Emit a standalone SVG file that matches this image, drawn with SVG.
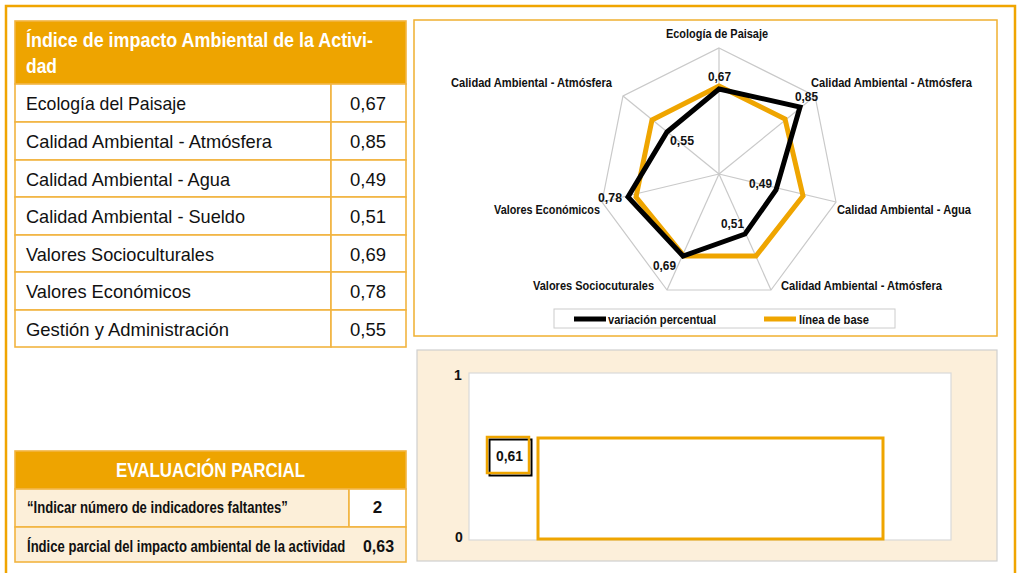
<svg xmlns="http://www.w3.org/2000/svg" width="1018" height="573" viewBox="0 0 1018 573">
<style>
.t{font-family:"Liberation Sans Narrow","Liberation Sans",Arial,sans-serif}
.reg{font-size:18.5px;fill:#111}
.hb{font-size:19.5px;font-weight:bold;fill:#fff}
.lab{font-size:12.5px;font-weight:bold;fill:#111}
.eb{font-size:17px;font-weight:bold;fill:#111}
.cell{fill:#fff;stroke:#F2B440;stroke-width:1.6}
.cream{fill:#FCEFD9;stroke:#F2B440;stroke-width:1.6}
.grid{fill:none;stroke:#c9c9c9;stroke-width:1.2}
</style>
<rect width="1018" height="573" fill="#fff"/>
<g id="outer-frame">
<path d="M6,573 V6 H1015 V573" fill="none" stroke="#F0A500" stroke-width="2.5"/>
</g>
<g id="table-indice">
<rect x="15" y="21" width="391" height="63" fill="#EEA400" stroke="#F2B440" stroke-width="1.6"/>
<text class="t hb" x="26" y="47" textLength="347" lengthAdjust="spacingAndGlyphs">Índice de impacto Ambiental de la Activi-</text>
<text class="t hb" x="26" y="73" textLength="31" lengthAdjust="spacingAndGlyphs">dad</text>
<rect class="cell" x="15" y="84" width="316" height="38"/><rect class="cell" x="331" y="84" width="75" height="38"/>
<rect class="cell" x="15" y="122" width="316" height="38"/><rect class="cell" x="331" y="122" width="75" height="38"/>
<rect class="cell" x="15" y="160" width="316" height="37"/><rect class="cell" x="331" y="160" width="75" height="37"/>
<rect class="cell" x="15" y="197" width="316" height="38"/><rect class="cell" x="331" y="197" width="75" height="38"/>
<rect class="cell" x="15" y="235" width="316" height="37"/><rect class="cell" x="331" y="235" width="75" height="37"/>
<rect class="cell" x="15" y="272" width="316" height="38"/><rect class="cell" x="331" y="272" width="75" height="38"/>
<rect class="cell" x="15" y="310" width="316" height="37"/><rect class="cell" x="331" y="310" width="75" height="37"/>
<text class="t reg" x="26" y="110" textLength="160" lengthAdjust="spacingAndGlyphs">Ecología del Paisaje</text>
<text class="t reg" x="26" y="148" textLength="246" lengthAdjust="spacingAndGlyphs">Calidad Ambiental - Atmósfera</text>
<text class="t reg" x="26" y="186" textLength="204" lengthAdjust="spacingAndGlyphs">Calidad Ambiental - Agua</text>
<text class="t reg" x="26" y="223" textLength="219" lengthAdjust="spacingAndGlyphs">Calidad Ambiental - Sueldo</text>
<text class="t reg" x="26" y="261" textLength="188" lengthAdjust="spacingAndGlyphs">Valores Socioculturales</text>
<text class="t reg" x="26" y="298" textLength="165" lengthAdjust="spacingAndGlyphs">Valores Económicos</text>
<text class="t reg" x="26" y="336" textLength="203" lengthAdjust="spacingAndGlyphs">Gestión y Administración</text>
<text class="t reg" x="350" y="110" textLength="36" lengthAdjust="spacingAndGlyphs">0,67</text>
<text class="t reg" x="350" y="148" textLength="36" lengthAdjust="spacingAndGlyphs">0,85</text>
<text class="t reg" x="350" y="186" textLength="36" lengthAdjust="spacingAndGlyphs">0,49</text>
<text class="t reg" x="350" y="223" textLength="36" lengthAdjust="spacingAndGlyphs">0,51</text>
<text class="t reg" x="350" y="261" textLength="36" lengthAdjust="spacingAndGlyphs">0,69</text>
<text class="t reg" x="350" y="298" textLength="36" lengthAdjust="spacingAndGlyphs">0,78</text>
<text class="t reg" x="350" y="336" textLength="36" lengthAdjust="spacingAndGlyphs">0,55</text>
</g>
<g id="radar-chart">
<rect x="414" y="20" width="583" height="316" fill="#fff" stroke="#F0B030" stroke-width="1.5"/>
<polygon class="grid" points="719,48 815,96 836,202 771,290 667,290 602,202 623,96"/>
<g class="grid">
<line x1="719" y1="174" x2="719" y2="48"/><line x1="719" y1="174" x2="815" y2="96"/>
<line x1="719" y1="174" x2="836" y2="202"/><line x1="719" y1="174" x2="771" y2="290"/>
<line x1="719" y1="174" x2="667" y2="290"/><line x1="719" y1="174" x2="602" y2="202"/>
<line x1="719" y1="174" x2="623" y2="96"/>
</g>
<polygon id="serie-base" points="719,86 785,119 803,196 756,256 684,256 636,197 652,120" fill="none" stroke="#EFA500" stroke-width="5" stroke-linejoin="miter"/>
<polygon id="serie-variacion" points="719,89 800,107 776,190 745,234 683,256 628,197 667,132" fill="none" stroke="#000" stroke-width="5" stroke-linejoin="miter"/>
<text class="t lab" x="666" y="38" textLength="102" lengthAdjust="spacingAndGlyphs">Ecología de Paisaje</text>
<text class="t lab" x="451" y="87" textLength="161" lengthAdjust="spacingAndGlyphs">Calidad Ambiental - Atmósfera</text>
<text class="t lab" x="811" y="87" textLength="161" lengthAdjust="spacingAndGlyphs">Calidad Ambiental - Atmósfera</text>
<text class="t lab" x="837" y="214" textLength="134" lengthAdjust="spacingAndGlyphs">Calidad Ambiental - Agua</text>
<text class="t lab" x="494" y="214" textLength="106" lengthAdjust="spacingAndGlyphs">Valores Económicos</text>
<text class="t lab" x="533" y="290" textLength="121" lengthAdjust="spacingAndGlyphs">Valores Sociocuturales</text>
<text class="t lab" x="781" y="290" textLength="161" lengthAdjust="spacingAndGlyphs">Calidad Ambiental - Atmósfera</text>
<text class="t lab" x="708" y="81" textLength="23" lengthAdjust="spacingAndGlyphs">0,67</text>
<text class="t lab" x="795" y="101" textLength="23" lengthAdjust="spacingAndGlyphs">0,85</text>
<text class="t lab" x="670" y="145" textLength="24" lengthAdjust="spacingAndGlyphs">0,55</text>
<text class="t lab" x="749" y="188" textLength="23" lengthAdjust="spacingAndGlyphs">0,49</text>
<text class="t lab" x="598" y="202" textLength="24" lengthAdjust="spacingAndGlyphs">0,78</text>
<text class="t lab" x="721" y="228" textLength="23" lengthAdjust="spacingAndGlyphs">0,51</text>
<text class="t lab" x="653" y="270" textLength="23" lengthAdjust="spacingAndGlyphs">0,69</text>
<g id="legend">
<rect x="554" y="309" width="341" height="19" fill="#fff" stroke="#cccccc" stroke-width="1"/>
<line x1="574" y1="319" x2="606" y2="319" stroke="#000" stroke-width="5"/>
<text class="t lab" x="608" y="324" textLength="108" lengthAdjust="spacingAndGlyphs">variación percentual</text>
<line x1="764" y1="319" x2="796" y2="319" stroke="#EFA500" stroke-width="5"/>
<text class="t lab" x="799" y="324" textLength="70" lengthAdjust="spacingAndGlyphs">línea de base</text>
</g>
</g>
<g id="table-evaluacion">
<rect x="15" y="451" width="391" height="38" fill="#EEA400" stroke="#F2B440" stroke-width="1.6"/>
<text class="t" x="116" y="477" font-size="20" font-weight="bold" fill="#fff" textLength="189" lengthAdjust="spacingAndGlyphs">EVALUACIÓN PARCIAL</text>
<rect class="cream" x="15" y="489" width="334" height="38"/>
<rect class="cell" x="349" y="489" width="57" height="38"/>
<rect class="cream" x="15" y="527" width="391" height="35"/>
<text class="t eb" transform="translate(27,513) scale(0.77,1)" x="0" y="0">“Indicar número de indicadores faltantes”</text>
<text class="t eb" x="377.5" y="513" text-anchor="middle">2</text>
<text class="t eb" transform="translate(27,552) scale(0.77,1)" x="0" y="0">Índice parcial del impacto ambiental de la actividad</text>
<text class="t eb" x="363" y="552" textLength="31" lengthAdjust="spacingAndGlyphs">0,63</text>
</g>
<g id="bar-chart">
<rect x="417" y="350" width="580" height="211" fill="#FCEFDA" stroke="#cfcfcf" stroke-width="1.2"/>
<rect x="469" y="373" width="482" height="167" fill="#fff" stroke="#d9d9d9" stroke-width="1.2"/>
<text class="t" x="458" y="380" font-size="14" font-weight="bold" fill="#111" text-anchor="middle">1</text>
<text class="t" x="459" y="542" font-size="14" font-weight="bold" fill="#111" text-anchor="middle">0</text>
<rect x="538" y="438" width="345" height="101" fill="#fff" stroke="#EFA500" stroke-width="3"/>
<rect x="489.5" y="439.5" width="42" height="36" fill="#fff" stroke="#000" stroke-width="2"/>
<rect x="487" y="437" width="42" height="36" fill="none" stroke="#EFA500" stroke-width="2.5"/>
<text class="t" x="496" y="461" font-size="14" font-weight="bold" fill="#111" textLength="27" lengthAdjust="spacingAndGlyphs">0,61</text>
</g>
</svg>
